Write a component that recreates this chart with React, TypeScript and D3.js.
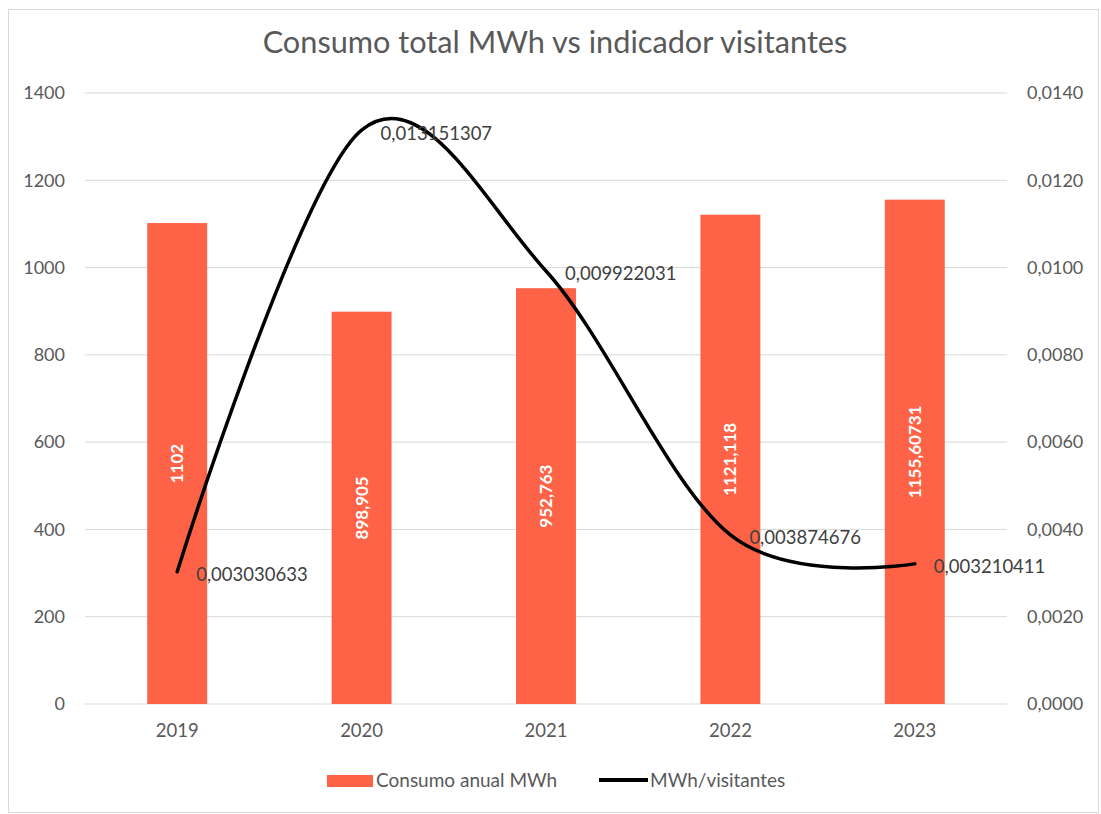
import React from "react";
import { scaleBand, scaleLinear, line, curveCatmullRom, range } from "d3";

const years = ["2019", "2020", "2021", "2022", "2023"];
const consumo = [1102, 898.905, 952.763, 1121.118, 1155.60731];
const consumoLabels = ["1102", "898,905", "952,763", "1121,118", "1155,60731"];
const indicador = [0.003030633, 0.013151307, 0.009922031, 0.003874676, 0.003210411];
const leftTicks = range(0, 1401, 200);
const rightTicks = range(0, 0.01401, 0.002);

const width = 1101;
const height = 814;
const margin = { top: 93, right: 94, bottom: 110, left: 85 };
const innerW = width - margin.left - margin.right;
const innerH = height - margin.top - margin.bottom;

const font = "Lato, 'Open Sans', sans-serif";
const axisColor = "#595959";
const barColor = "#FF6347";

const fmtComma = (v: number, d: number) => v.toFixed(d).replace(".", ",");

export default function App() {
  const x = scaleBand<string>().domain(years).range([0, innerW]).padding(0);
  const yL = scaleLinear().domain([0, 1400]).range([innerH, 0]);
  const yR = scaleLinear().domain([0, 0.014]).range([innerH, 0]);
  const barW = x.bandwidth() * 0.325;
  const cx = (yr: string) => (x(yr) ?? 0) + x.bandwidth() / 2;

  const pts = years.map((yr, i) => [cx(yr), yR(indicador[i])] as [number, number]);
  const path = line().curve(curveCatmullRom.alpha(0))(pts) ?? "";

  return (
    <svg
      width={width}
      height={height}
      style={{ position: "absolute", left: 0, top: 0, background: "#fff" }}
      fontFamily={font}
    >
      <rect x={8.5} y={9.5} width={1090} height={803} fill="#fff" stroke="#d9d9d9" />
      <text x={555} y={53} textAnchor="middle" fontSize={30.7} fill={axisColor}>
        Consumo total MWh vs indicador visitantes
      </text>
      <g transform={`translate(${margin.left},${margin.top})`}>
        {leftTicks.map((t) => (
          <line key={t} x1={0} x2={innerW} y1={yL(t)} y2={yL(t)} stroke="#d9d9d9" strokeWidth={1} />
        ))}
        {leftTicks.map((t) => (
          <text key={t} x={-20} y={yL(t)} dy="0.35em" textAnchor="end" fontSize={18} fill={axisColor}>
            {t}
          </text>
        ))}
        {rightTicks.map((t, i) => (
          <text key={i} x={innerW + 20} y={yR(t)} dy="0.35em" textAnchor="start" fontSize={18} fill={axisColor}>
            {fmtComma(t, 4)}
          </text>
        ))}
        {years.map((yr, i) => (
          <rect key={yr} x={cx(yr) - barW / 2} y={yL(consumo[i])} width={barW} height={innerH - yL(consumo[i])} fill={barColor} />
        ))}
        {years.map((yr, i) => {
          const my = (yL(consumo[i]) + innerH) / 2;
          return (
            <text
              key={yr}
              transform={`translate(${cx(yr)},${my}) rotate(-90)`}
              textAnchor="middle"
              dy="0.35em"
              fontSize={17}
              fontWeight="bold"
              fill="#fff"
            >
              {consumoLabels[i]}
            </text>
          );
        })}
        {years.map((yr) => (
          <text key={yr} x={cx(yr)} y={innerH + 33} textAnchor="middle" fontSize={18.5} fill={axisColor}>
            {yr}
          </text>
        ))}
        <path d={path} fill="none" stroke="#000" strokeWidth={3.5} strokeLinecap="round" />
        {years.map((yr, i) => (
          <text key={yr} x={cx(yr) + 19} y={yR(indicador[i]) + 3} dy="0.35em" fontSize={18.5} fill="#404040">
            {fmtComma(indicador[i], 9)}
          </text>
        ))}
      </g>
      <rect x={327} y={775} width={46} height={12} fill={barColor} />
      <text x={376} y={787} fontSize={19} fill={axisColor}>Consumo anual MWh</text>
      <line x1={599} x2={648} y1={780} y2={780} stroke="#000" strokeWidth={4} />
      <text x={650} y={787} fontSize={19} fill={axisColor}>MWh/visitantes</text>
    </svg>
  );
}
